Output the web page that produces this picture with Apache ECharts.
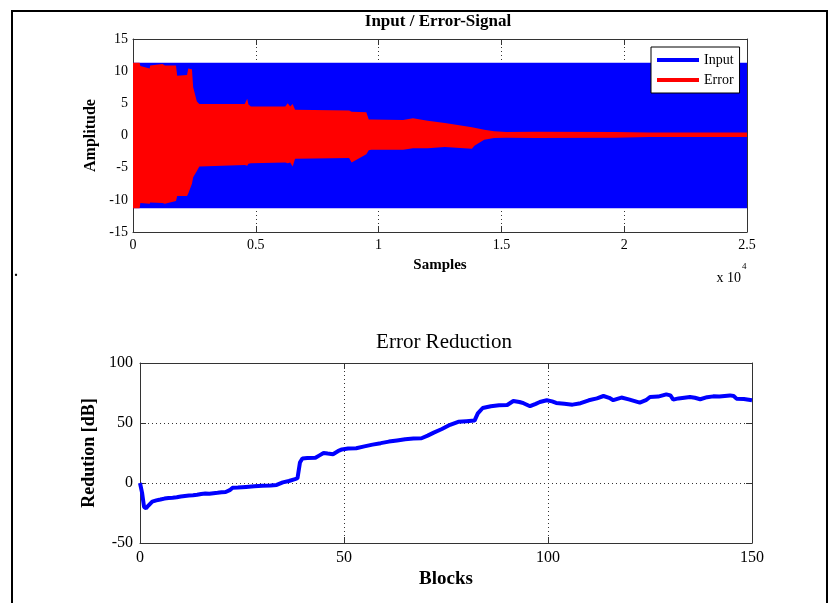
<!DOCTYPE html>
<html>
<head>
<meta charset="utf-8">
<title>Input / Error-Signal</title>
<script src="https://cdn.jsdelivr.net/npm/echarts@6/dist/echarts.min.js"></script>
<style>
  html, body { margin: 0; padding: 0; background: #fff; }
  #main { width: 833px; height: 603px; }
</style>
</head>
<body>
<div id="main"></div>
<script>
// top plot: envelopes of the input and error signals (samples -> amplitude)
var inputX = [0, 25000];
var inputUpper = [11.3, 11.3];
var inputLower = [-11.3, -11.3];

var errorX = [0, 270, 300, 680, 700, 1200, 1300, 1750, 1800, 2200, 2250, 2400, 2450, 2600, 2700,
  4550, 4650, 4700, 4800, 6200, 6300, 6400, 6500, 6600, 8800, 8900, 9500, 9600, 9700,
  11000, 11400, 12000, 12700, 13800, 13900, 14300, 14700, 15200, 16400, 19600, 21000, 25000];
var errorUpper = [11.3, 11.3, 10.8, 10.4, 10.9, 11.1, 10.9, 10.9, 9.3, 9.4, 10.4, 10.3, 7.5, 5.3, 4.9,
  4.9, 5.7, 4.8, 4.5, 4.5, 5.0, 4.5, 4.9, 4.0, 3.9, 3.7, 3.6, 2.5, 2.5,
  2.4, 2.7, 2.3, 1.95, 1.3, 1.2, 0.9, 0.65, 0.55, 0.6, 0.55, 0.45, 0.45];
var errorLower = [-11.3, -11.3, -10.5, -10.6, -10.4, -10.5, -10.6, -10.2, -9.4, -9.4, -9.0, -7.5, -6.5, -5.5, -4.8,
  -4.6, -4.7, -4.4, -4.3, -4.2, -4.3, -4.2, -4.8, -3.6, -3.5, -4.2, -2.9, -2.3, -2.2,
  -2.2, -2.0, -2.0, -1.8, -2.05, -1.6, -0.65, -0.4, -0.35, -0.4, -0.35, -0.25, -0.25];

// bottom plot: error reduction per block
var blocks = [0, 0.5, 1, 1.5, 2, 3, 4, 5, 6, 7, 8, 9, 10, 11, 12, 13, 14, 15, 16, 17, 18, 19, 20, 21, 22, 22.7,
  24, 26, 28, 30, 32, 33.5, 35, 36.5, 38, 38.6, 39.2, 39.8, 41, 43, 44, 45, 46, 47.3, 48.5, 49.5,
  51, 53, 55, 57, 59, 61, 63, 65, 67, 69, 70.5, 72, 74, 76, 78, 80, 82, 82.8, 84, 86, 88, 90,
  91.5, 93, 94, 95.6, 97, 98, 99.7, 101, 102, 104, 106, 108, 110, 112, 113.6, 115, 116, 118, 120,
  122.5, 124, 125, 127, 129, 130, 130.7, 132, 134.8, 136, 137.3, 139, 140.5, 142, 144.6, 145.5,
  146.2, 148, 150];
var reductionDb = [0, -8, -20, -21, -19, -15.5, -14.5, -13.8, -13, -12.5, -12.2, -11.8, -11.2, -10.8, -10.5,
  -10.2, -9.8, -9.2, -8.8, -8.9, -8.5, -8.2, -7.8, -7.5, -6, -4,
  -3.8, -3.3, -2.8, -2.3, -2, -1.6, 0.5, 1.7, 3.2, 4, 17, 20.5, 20.8, 21, 23, 25, 24.5, 24, 26.5, 28,
  28.7, 29, 30.5, 32, 33.2, 34.5, 35.5, 36.5, 37, 37.3, 39.5, 42, 45, 48.5, 51, 51.5, 52, 58, 62.5, 64, 64.7, 65,
  68.3, 67.5, 66.5, 64, 66, 67.5, 69, 68, 66.7, 66, 65.3, 66.5, 68.9, 70.5, 72.5, 71, 69, 71.2, 69.5,
  67, 69, 71.7, 72, 73.9, 73, 69.5, 70.5, 71.7, 71, 69.8, 71.5, 72.2, 72, 73, 72.5,
  70.3, 70, 68.9];

var serif = '"Liberation Serif", "DejaVu Serif", serif';
var frameColor = '#333';

var chart = echarts.init(document.getElementById('main'));

// one axis of the box; labelled axes get tick labels, the others only inward ticks
function axis(gridIndex, position, min, max, interval, opts) {
  var a = {
    gridIndex: gridIndex,
    type: 'value',
    position: position,
    min: min,
    max: max,
    interval: interval,
    axisLine: { show: true, onZero: false, lineStyle: { color: frameColor, width: 1 } },
    axisTick: { show: true, inside: true, length: 6, lineStyle: { color: frameColor } },
    axisLabel: { show: false },
    splitLine: { show: false }
  };
  if (opts) {
    a.axisLabel = {
      show: true, color: '#000', fontFamily: serif, fontSize: opts.fontSize,
      margin: opts.margin, formatter: opts.formatter
    };
    a.splitLine = { show: true, lineStyle: { color: frameColor, width: 1, type: [1, 3] } };
    a.name = opts.name;
    a.nameLocation = 'middle';
    a.nameGap = opts.nameGap;
    a.nameTextStyle = { fontFamily: serif, fontWeight: 'bold', fontSize: opts.nameSize, color: '#000' };
  }
  return a;
}

// filled band between an upper and lower envelope, drawn as one polygon
function band(name, color, xs, ups, lows) {
  return {
    type: 'custom',
    name: name,
    xAxisIndex: 0,
    yAxisIndex: 0,
    silent: true,
    itemStyle: { color: color },
    encode: { x: 0, y: [1, 2] },
    data: xs.map(function (x, i) { return [x, ups[i], lows[i]]; }),
    renderItem: function (params, api) {
      if (params.dataIndex !== 0) return null;
      var pts = [];
      for (var i = 0; i < xs.length; i++) pts.push(api.coord([xs[i], ups[i]]));
      for (var j = xs.length - 1; j >= 0; j--) pts.push(api.coord([xs[j], lows[j]]));
      return { type: 'polygon', shape: { points: pts }, style: { fill: color } };
    }
  };
}

var option = {
  animation: false,
  backgroundColor: '#fff',
  grid: [
    { left: 133, top: 39, width: 614, height: 193 },
    { left: 140, top: 363, width: 612, height: 180 }
  ],
  xAxis: [
    axis(0, 'bottom', 0, 25000, 5000, {
      fontSize: 14, margin: 6, name: 'Samples', nameGap: 26, nameSize: 15,
      formatter: function (v) { return String(v / 10000); }
    }),
    axis(0, 'top', 0, 25000, 5000),
    axis(1, 'bottom', 0, 150, 50, { fontSize: 16, margin: 7, name: 'Blocks', nameGap: 27, nameSize: 19 }),
    axis(1, 'top', 0, 150, 50)
  ],
  yAxis: [
    axis(0, 'left', -15, 15, 5, { fontSize: 14, margin: 5, name: 'Amplitude', nameGap: 25, nameSize: 16 }),
    axis(0, 'right', -15, 15, 5),
    axis(1, 'left', -50, 100, 50, { fontSize: 16, margin: 7, name: 'Redution [dB]', nameGap: 36, nameSize: 18 }),
    axis(1, 'right', -50, 100, 50)
  ],
  legend: {
    orient: 'vertical',
    left: 651,
    top: 47,
    data: ['Input', 'Error'],
    icon: 'rect',
    itemWidth: 42,
    itemHeight: 4,
    itemGap: 6,
    padding: [6, 6, 6, 6],
    backgroundColor: '#fff',
    borderColor: '#000',
    borderWidth: 1,
    borderRadius: 0,
    selectedMode: false,
    textStyle: { fontFamily: serif, fontSize: 14, color: '#000' }
  },
  graphic: [
    { type: 'rect', shape: { x: 12, y: 11, width: 815, height: 600 },
      style: { fill: 'none', stroke: '#000', lineWidth: 2 }, z: 100 },
    { type: 'text', x: 16, y: 272,
      style: { text: '.', font: 'bold 14px ' + serif, fill: '#000', align: 'center', verticalAlign: 'middle' } },
    { type: 'text', x: 438, y: 22,
      style: { text: 'Input / Error-Signal', font: 'bold 17px ' + serif, fill: '#000', align: 'center', verticalAlign: 'middle' } },
    { type: 'text', x: 444, y: 342,
      style: { text: 'Error Reduction', font: '21px ' + serif, fill: '#000', align: 'center', verticalAlign: 'middle' } },
    { type: 'text', x: 741, y: 278,
      style: { text: 'x 10', font: '14px ' + serif, fill: '#000', align: 'right', verticalAlign: 'middle' } },
    { type: 'text', x: 742, y: 267,
      style: { text: '4', font: '9px ' + serif, fill: '#000', align: 'left', verticalAlign: 'middle' } }
  ],
  series: [
    band('Input', '#0000ff', inputX, inputUpper, inputLower),
    band('Error', '#ff0000', errorX, errorUpper, errorLower),
    {
      type: 'line',
      name: 'Reduction',
      xAxisIndex: 2,
      yAxisIndex: 2,
      showSymbol: false,
      data: blocks.map(function (b, i) { return [b, reductionDb[i]]; }),
      lineStyle: { color: '#0000ff', width: 4 },
      itemStyle: { color: '#0000ff' }
    }
  ]
};

chart.setOption(option);
window.onresize = function () { chart.resize(); };
</script>
</body>
</html>
